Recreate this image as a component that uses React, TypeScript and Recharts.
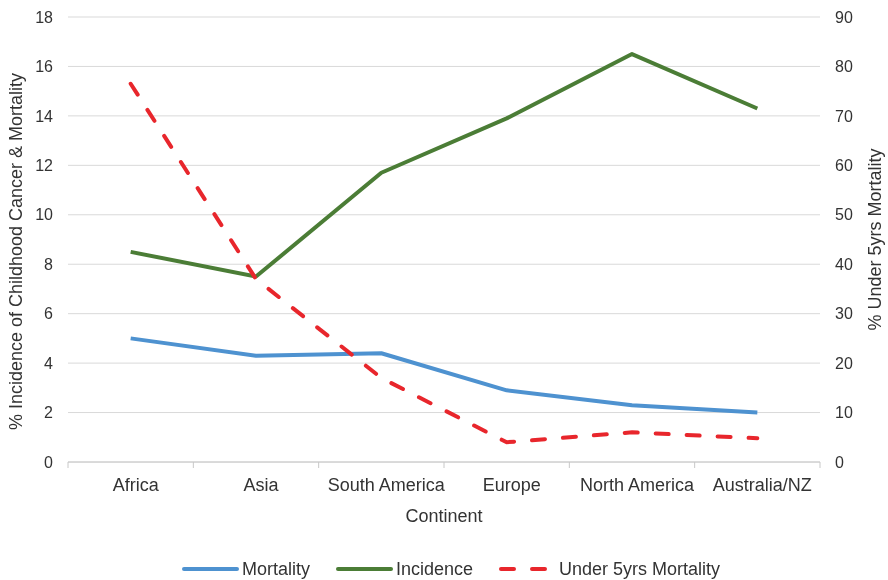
import React from 'react';
import { LineChart, Line, XAxis, YAxis, CartesianGrid, Legend } from 'recharts';

const continents = ['Africa', 'Asia', 'South America', 'Europe', 'North America', 'Australia/NZ'];
const mortality = [5.0, 4.3, 4.4, 2.9, 2.3, 2.0];
const incidence = [8.5, 7.5, 11.7, 13.9, 16.5, 14.3];
const under5Mortality = [76.5, 37.0, 17.0, 4.0, 6.0, 4.8];
const leftTicks = [0, 2, 4, 6, 8, 10, 12, 14, 16, 18];
const rightTicks = [0, 10, 20, 30, 40, 50, 60, 70, 80, 90];

const BLUE = '#4e92d0';
const GREEN = '#4b7d36';
const RED = '#e8262c';
const TEXT = '#333333';
const AXIS = '#c8c8c8';
const TICK_MARGIN = 16;

const data = continents.map((c, i) => ({
  continent: c,
  mortality: mortality[i],
  incidence: incidence[i],
  under5: under5Mortality[i],
}));

const legendItems = [
  { label: 'Mortality', color: BLUE, dash: undefined as string | undefined },
  { label: 'Incidence', color: GREEN, dash: undefined as string | undefined },
  { label: 'Under 5yrs Mortality', color: RED, dash: '13 18' },
];

const renderLegend = () => (
  <div
    style={{
      height: 48,
      display: 'flex',
      alignItems: 'flex-end',
      justifyContent: 'center',
      paddingLeft: 40,
      boxSizing: 'border-box',
    }}
  >
    {legendItems.map((it) => (
      <div key={it.label} style={{ display: 'flex', alignItems: 'center', marginRight: 26, height: 22 }}>
        <svg width={57} height={10} style={{ marginRight: 3, display: 'block' }}>
          <line
            x1={2}
            y1={5}
            x2={55}
            y2={5}
            stroke={it.color}
            strokeWidth={4}
            strokeLinecap="round"
            strokeDasharray={it.dash}
          />
        </svg>
        <span style={{ fontSize: 18, color: TEXT, lineHeight: '22px' }}>{it.label}</span>
      </div>
    ))}
  </div>
);

const CategoryTick = (props: any) => {
  const { x, y, payload, index, visibleTicksCount } = props;
  const half = payload && typeof payload.offset === 'number' ? payload.offset : 0;
  const axisY = y - TICK_MARGIN;
  const isLast = index === visibleTicksCount - 1;
  return (
    <g>
      <line x1={x - half} y1={axisY} x2={x - half} y2={axisY + 6} stroke={AXIS} strokeWidth={1} />
      {isLast && <line x1={x + half} y1={axisY} x2={x + half} y2={axisY + 6} stroke={AXIS} strokeWidth={1} />}
      <text x={x} y={y} dx={5} dy="0.71em" textAnchor="middle" fill={TEXT} fontSize={18}>
        {payload.value}
      </text>
    </g>
  );
};

export default function App() {
  return (
    <div
      style={{
        position: 'fixed',
        left: 0,
        top: 0,
        width: 888,
        height: 580,
        fontFamily: '"Liberation Sans", Arial, sans-serif',
      }}
    >
      <LineChart width={888} height={580} data={data} margin={{ top: 17, right: 0, left: 0, bottom: 0 }}>
        <CartesianGrid yAxisId="left" vertical={false} stroke="#d9d9d9" strokeWidth={1} />
        <XAxis
          dataKey="continent"
          scale="band"
          height={70}
          axisLine={{ stroke: AXIS }}
          tickLine={false}
          tickSize={0}
          tickMargin={TICK_MARGIN}
          interval={0}
          tick={<CategoryTick />}
          label={{ value: 'Continent', position: 'insideBottom', offset: 10, fill: TEXT, fontSize: 18 }}
        />
        <YAxis
          yAxisId="left"
          domain={[0, 18]}
          ticks={leftTicks}
          width={68}
          axisLine={false}
          tickLine={false}
          tickSize={0}
          tickMargin={15}
          tick={{ fill: TEXT, fontSize: 16 }}
          label={{
            value: '% Incidence of Childhood Cancer & Mortality',
            angle: -90,
            position: 'center',
            dx: -18.5,
            dy: 12,
            fill: TEXT,
            fontSize: 18,
          }}
        />
        <YAxis
          yAxisId="right"
          orientation="right"
          domain={[0, 90]}
          ticks={rightTicks}
          width={68}
          axisLine={false}
          tickLine={false}
          tickSize={0}
          tickMargin={15}
          tick={{ fill: TEXT, fontSize: 16 }}
          label={{
            value: '% Under 5yrs Mortality',
            angle: -90,
            position: 'center',
            dx: 21,
            fill: TEXT,
            fontSize: 18,
          }}
        />
        <Legend verticalAlign="bottom" content={renderLegend} />
        <Line
          yAxisId="left"
          dataKey="mortality"
          name="Mortality"
          stroke={BLUE}
          strokeWidth={4}
          dot={false}
          isAnimationActive={false}
          strokeLinejoin="round"
        />
        <Line
          yAxisId="left"
          dataKey="incidence"
          name="Incidence"
          stroke={GREEN}
          strokeWidth={4}
          dot={false}
          isAnimationActive={false}
          strokeLinejoin="round"
        />
        <Line
          yAxisId="right"
          dataKey="under5"
          name="Under 5yrs Mortality"
          stroke={RED}
          strokeWidth={4}
          strokeDasharray="13 18"
          strokeLinecap="round"
          dot={false}
          isAnimationActive={false}
        />
      </LineChart>
    </div>
  );
}
